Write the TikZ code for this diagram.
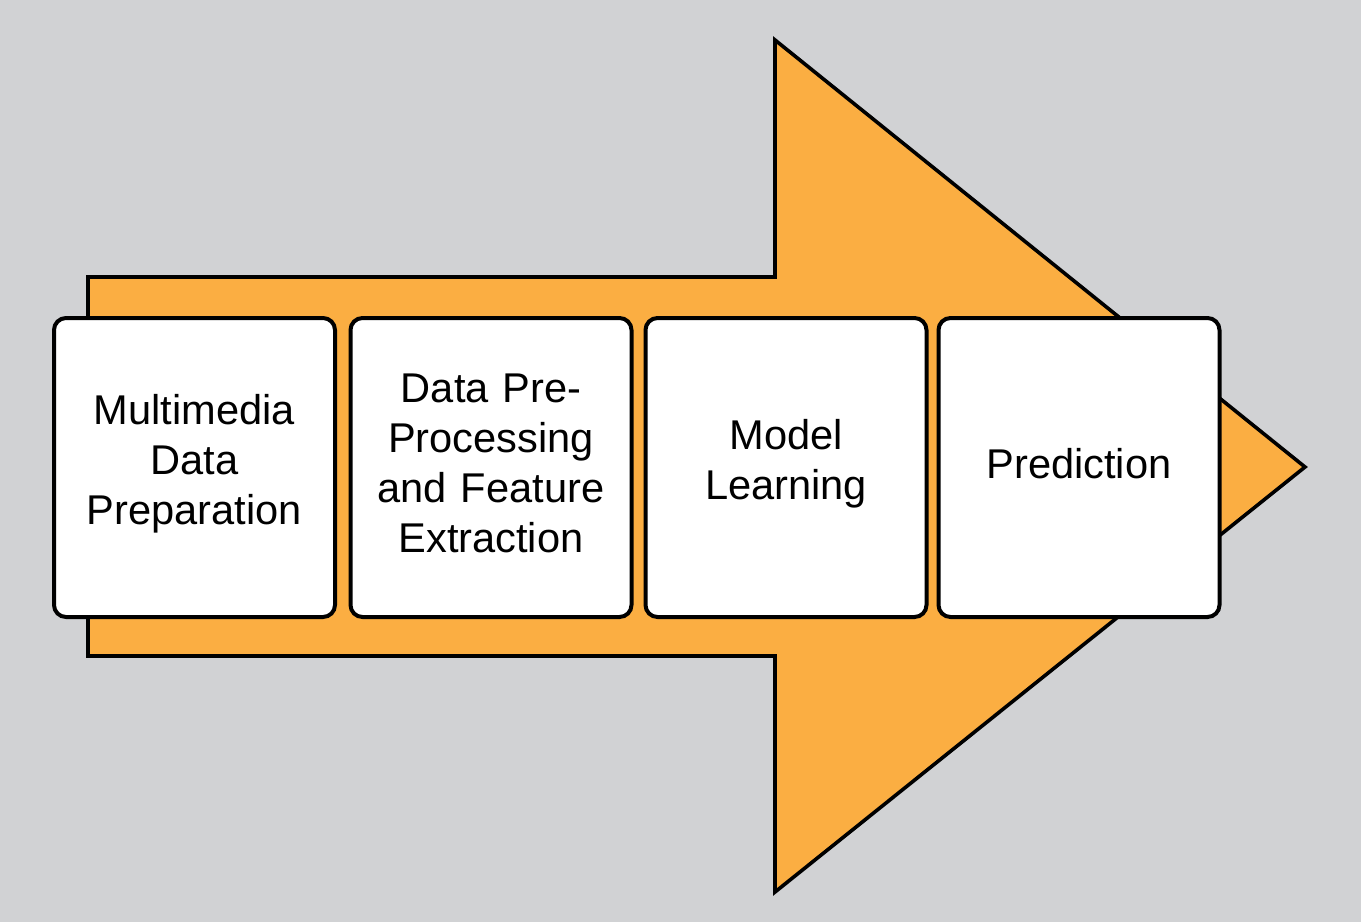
\documentclass[tikz,border=0pt]{standalone}
\usepackage{fontspec}
\setmainfont{Liberation Sans}
\definecolor{bggray}{HTML}{D1D2D4}
\definecolor{arroworange}{HTML}{FBAE42}
\begin{document}
\begin{tikzpicture}[x=0.5pt,y=-0.5pt,
  stagebox/.style={draw=black, line width=2pt, fill=white, rounded corners=6pt,
    minimum width=140.5pt, minimum height=149.5pt, inner sep=0pt},
  stagetext/.style={inner sep=0pt, align=center, text width=138pt,
    font=\fontsize{20.8}{25}\selectfont}]
\fill[bggray] (0,0) rectangle (1361,922);
\useasboundingbox (0,0) rectangle (1361,922);
\draw[fill=arroworange, line width=1.8pt, line join=miter]
  (88,277) -- (775,277) -- (775,40) -- (1305,467) -- (775,892) -- (775,656) -- (88,656) -- cycle;
\node[stagebox] (prep) at (194.5,467.5) {};
\node[stagebox] (feat) at (491,467.5) {};
\node[stagebox] (learn) at (786,467.5) {};
\node[stagebox] (pred) at (1079,467.5) {};
\node[stagetext] (preptext) at ([yshift=2pt]prep.center) {Multimedia\\Data\\Preparation};
\node[stagetext] (feattext) at ([yshift=2pt]feat.center) {Data Pre-\\Processing\\and Feature\\Extraction};
\node[stagetext] (learntext) at ([yshift=2pt]learn.center) {Model\\Learning};
\node[stagetext] (predtext) at ([yshift=2pt]pred.center) {Prediction};
\end{tikzpicture}
\end{document}
